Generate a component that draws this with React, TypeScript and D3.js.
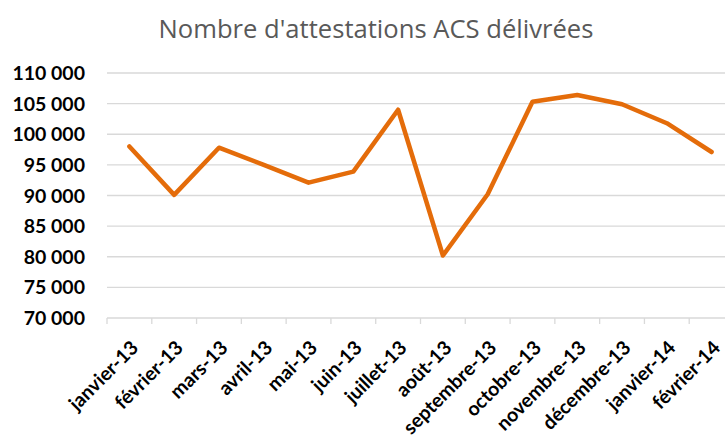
import React from 'react';
import * as d3 from 'd3';

const months = [
  'janvier-13', 'février-13', 'mars-13', 'avril-13', 'mai-13', 'juin-13', 'juillet-13',
  'août-13', 'septembre-13', 'octobre-13', 'novembre-13', 'décembre-13', 'janvier-14', 'février-14',
];

const attestations = [
  98000, 90100, 97800, 95000, 92100, 93900, 104000,
  80200, 90200, 105300, 106400, 104900, 101800, 97100,
];

const yTicks = [70000, 75000, 80000, 85000, 90000, 95000, 100000, 105000, 110000];

const WIDTH = 725;
const HEIGHT = 445;
const margin = { top: 73, right: -9, bottom: 127, left: 107 };

const FONT = 'Lato, "Open Sans", sans-serif';
const LINE_COLOR = '#E46C0A';
const GRID_COLOR = '#D9D9D9';

const formatFr = (v: number) => d3.format(',')(v).replace(/,/g, ' ');

export default function App() {
  const x = d3.scaleBand<string>()
    .domain(months)
    .range([margin.left, WIDTH - margin.right])
    .padding(0);

  const y = d3.scaleLinear()
    .domain([70000, 110000])
    .range([HEIGHT - margin.bottom, margin.top]);

  const line = d3.line<number>()
    .x((_, i) => (x(months[i]) ?? 0) + x.bandwidth() / 2)
    .y(d => y(d));

  const baseY = y(70000);

  return (
    <svg width={WIDTH} height={HEIGHT} style={{ position: 'absolute', left: 0, top: 0, background: '#fff' }}>
      <text
        x={376}
        y={38}
        textAnchor="middle"
        fontFamily='"Open Sans", sans-serif'
        fontSize={25.6}
        fill="#595959"
      >
        Nombre d'attestations ACS délivrées
      </text>

      {/* grille */}
      {yTicks.map(t => (
        <g key={t}>
          {t > 70000 && (
            <line x1={margin.left} x2={WIDTH - margin.right} y1={y(t)} y2={y(t)} stroke={GRID_COLOR} strokeWidth={1.3} />
          )}
          <text
            x={85}
            y={y(t)}
            dy="0.36em"
            textAnchor="end"
            fontFamily={FONT}
            fontWeight="bold"
            fontSize={19.5}
            fill="#000"
          >
            {formatFr(t)}
          </text>
        </g>
      ))}

      {/* axe x */}
      <line x1={margin.left} x2={WIDTH - margin.right} y1={baseY} y2={baseY} stroke={GRID_COLOR} strokeWidth={1.3} />
      {months.map(m => (
        <line key={m} x1={x(m)} x2={x(m)} y1={baseY} y2={baseY + 6} stroke={GRID_COLOR} strokeWidth={1.3} />
      ))}
      {months.map(m => {
        const cx = (x(m) ?? 0) + x.bandwidth() / 2;
        return (
          <text
            key={m}
            transform={`translate(${cx + 10},${baseY + 31}) rotate(-45)`}
            textAnchor="end"
            fontFamily={FONT}
            fontWeight="bold"
            fontSize={19.5}
            fill="#000"
          >
            {m}
          </text>
        );
      })}

      <path
        d={line(attestations) ?? ''}
        fill="none"
        stroke={LINE_COLOR}
        strokeWidth={4.5}
        strokeLinejoin="round"
        strokeLinecap="round"
      />
    </svg>
  );
}
